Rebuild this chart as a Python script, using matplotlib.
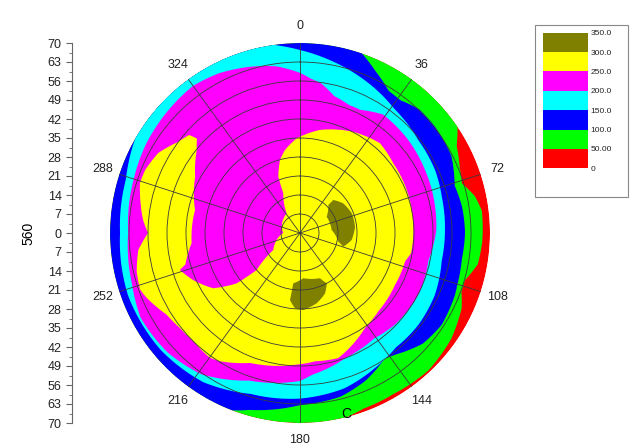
import numpy as np
import matplotlib
matplotlib.use("Agg")
from matplotlib import pyplot as plt
from matplotlib.path import Path
from matplotlib.colors import ListedColormap, BoundaryNorm
from matplotlib.cm import ScalarMappable
from matplotlib.patches import Rectangle
from matplotlib.ticker import MultipleLocator

plt.rcParams["font.family"] = ["Liberation Sans", "DejaVu Sans"]

# contour levels and their fill colours (lowest first)
levels = [0, 50, 100, 150, 200, 250, 300, 350]
level_labels = ["0", "50.00", "100.0", "150.0", "200.0", "250.0", "300.0", "350.0"]
band_colors = ["#ff0000", "#00ff00", "#0000ff", "#00ffff", "#ff00ff", "#ffff00", "#808000"]

r_max = 70
scale_ticks = list(range(-70, 71, 7))
angle_ticks = list(range(0, 360, 36))

# outer edge of each band: angle (deg, clockwise from top) and radius
red_theta = [0, 90, 180, 270, 360]
red_r = [70, 70, 70, 70, 70]

green_theta = [0, 56, 61, 68, 73, 78, 83, 93, 100, 106, 110, 115, 125, 137, 150, 160, 166, 360]
green_r = [70, 70, 66, 63.5, 62.4, 65.8, 67.5, 67.2, 66.5, 63.2, 63.3, 65.7, 68, 69.3, 68.6, 68.8, 70, 70]

blue_theta = [0, 19, 25, 32, 37, 44, 52, 58, 63, 73, 81, 90, 99, 108, 112, 123, 132, 142, 146,
              156, 166, 180, 196, 201, 360]
blue_r = [70, 70, 65.8, 61.7, 61.3, 63.3, 63.3, 62.9, 62.6, 59.6, 60.5, 60.8, 60.4, 61, 61.5,
          62.2, 60.9, 56.9, 55.8, 59.5, 62.1, 63.4, 67.8, 70, 70]

cyan_theta = [0, 11, 20, 30, 37, 52, 65, 76, 89, 101, 115, 128, 140, 151, 164, 180, 197, 213,
              230, 250, 270, 287, 300, 352, 360]
cyan_r = [67.4, 64.3, 61.9, 59.3, 57.5, 55.4, 54.9, 53.9, 53.4, 53.2, 54.7, 55.2, 55, 56.9,
          59.5, 61, 62, 65.5, 67, 67.4, 66.3, 67.1, 70, 70, 67.4]

magenta_theta = [0, 4, 8, 14, 21, 26, 35, 49, 63, 79, 89, 102, 117, 134, 145, 160, 175, 180,
                 199, 215, 228, 242, 253, 270, 288, 300, 324, 333, 343, 352, 360]
magenta_r = [59, 57, 55.7, 52, 50.5, 50.5, 53.3, 52.6, 51.6, 50.7, 50.2, 48.4, 49.2, 48.6,
             47.5, 49, 52.4, 54.5, 57.5, 63.5, 65.7, 66.5, 64.7, 63.3, 64.4, 65.5, 67, 66,
             64, 62, 59]

# C-shaped 250-300 region (outer edge clockwise, then inner edge back)
yellow_theta = [349.8, 358, 11, 27.6, 41.7, 53.2, 68.1, 83.4, 100.2, 105.1, 118.6, 135, 145.6,
                163, 173.3, 182.2, 201, 212, 215.8, 224.6, 231.6, 238.5, 247, 250.5, 256.8,
                264, 270, 274.7, 287.4, 292.1, 299.4, 306.7, 311.5, 312.5, 308.8, 298.1,
                282.4, 264.7, 254.6, 252.9, 246.2, 237.5, 231.5, 229.5, 237.5, 270, 325.9,
                337.2, 338.9, 344.7]
yellow_r = [31.1, 34.9, 38.7, 42.1, 44.3, 42.9, 42.4, 41.9, 41.6, 40.1, 39.9, 40.8, 42.4, 48.2,
            47.6, 48.6, 51.3, 55.7, 56.7, 56, 56.4, 57.6, 61.3, 62.5, 61.8, 59.9, 56, 58,
            61.8, 61.6, 60, 56.1, 54.5, 51.5, 48.8, 43.8, 39.6, 40.1, 43.8, 46.3, 43, 37.9,
            29.8, 21, 11.7, 6.2, 8.8, 15.9, 22.2, 27.9]

# two 300-350 islands
olive1_theta = [45.3, 55.6, 69.1, 83.5, 97.7, 107.6, 102.8, 84.6, 58.6, 45.3]
olive1_r = [17.3, 19.3, 20.4, 20.4, 19.2, 16.7, 14.5, 11.7, 11.5, 14.7]
olive2_theta = [187.6, 175.8, 156.2, 152, 157.5, 166.6, 177.5, 183.8, 188.5]
olive2_r = [18.7, 16.7, 18.2, 21, 24.1, 26.6, 28.4, 27.8, 25]


def closed_curve(theta_deg, r, steps=40, unwrap=True):
    th = np.deg2rad(np.asarray(theta_deg, dtype=float))
    rr = np.asarray(r, dtype=float)
    if unwrap:
        th = np.unwrap(np.append(th, th[0]))
        rr = np.append(rr, rr[0])
    verts = Path(np.column_stack([th, rr])).interpolated(steps).vertices
    return verts[:, 0], verts[:, 1]


fig = plt.figure(figsize=(6.3, 4.47), dpi=100)

ax = fig.add_axes([110 / 630, 24 / 447, 380 / 630, 380 / 447], projection="polar")
ax.set_theta_zero_location("N")
ax.set_theta_direction(-1)

# bands given over the full 0-360 sweep
bands = [
    (red_theta, red_r, band_colors[0]),
    (green_theta, green_r, band_colors[1]),
    (blue_theta, blue_r, band_colors[2]),
    (cyan_theta, cyan_r, band_colors[3]),
    (magenta_theta, magenta_r, band_colors[4]),
]
for th, r, c in bands:
    tt, rr = closed_curve(th, r, unwrap=False)
    ax.fill(tt, rr, color=c, lw=0, zorder=1)

# closed outlines of inner regions
islands = [
    (yellow_theta, yellow_r, band_colors[5]),
    (olive1_theta, olive1_r, band_colors[6]),
    (olive2_theta, olive2_r, band_colors[6]),
]
for th, r, c in islands:
    tt, rr = closed_curve(th, r, steps=6)
    ax.fill(tt, rr, color=c, lw=0, zorder=1)

ax.set_ylim(0, r_max)
ax.set_rgrids(np.arange(7, r_max, 7), labels=[])
ax.set_thetagrids(angle_ticks, labels=[str(a) for a in angle_ticks])
ax.grid(color="#3a3a3a", lw=0.6)
ax.spines["polar"].set_visible(False)
ax.tick_params(axis="x", pad=2, labelsize=9, colors="#222222")

# the "C" mark near the bottom edge
fig.text(346 / 630, 1 - 414 / 447, "C", fontsize=10, ha="center", va="center")

# radial scale on the left
axl = fig.add_axes([72 / 630, 24 / 447, 0.001, 380 / 447])
axl.set_ylim(-r_max, r_max)
axl.set_yticks(scale_ticks)
axl.set_yticklabels([str(abs(v)) for v in scale_ticks])
axl.yaxis.set_minor_locator(MultipleLocator(3.5))
axl.tick_params(axis="y", which="major", labelsize=9, length=4, color="#666666", labelcolor="#222222")
axl.tick_params(axis="y", which="minor", length=2, color="#666666")
axl.set_xticks([])
for s in ["top", "right", "bottom"]:
    axl.spines[s].set_visible(False)
axl.spines["left"].set_color("#666666")
axl.patch.set_visible(False)
axl.set_ylabel("560", fontsize=10, labelpad=9)

# colour scale box
cax = fig.add_axes([543 / 630, (447 - 168.3) / 447, 44.6 / 630, 135.6 / 447])
cmap = ListedColormap(band_colors)
norm = BoundaryNorm(levels, cmap.N)
cb = fig.colorbar(ScalarMappable(norm=norm, cmap=cmap), cax=cax, ticks=levels)
cb.set_ticklabels(level_labels)
cb.outline.set_visible(False)
cax.tick_params(length=0, pad=2, labelsize=6, labelcolor="#222222")
fig.add_artist(Rectangle((535 / 630, (447 - 197) / 447), 93 / 630, 172 / 447,
                         transform=fig.transFigure, fill=False, ec="#888888", lw=0.8))

fig.savefig("out.png", dpi=100)
